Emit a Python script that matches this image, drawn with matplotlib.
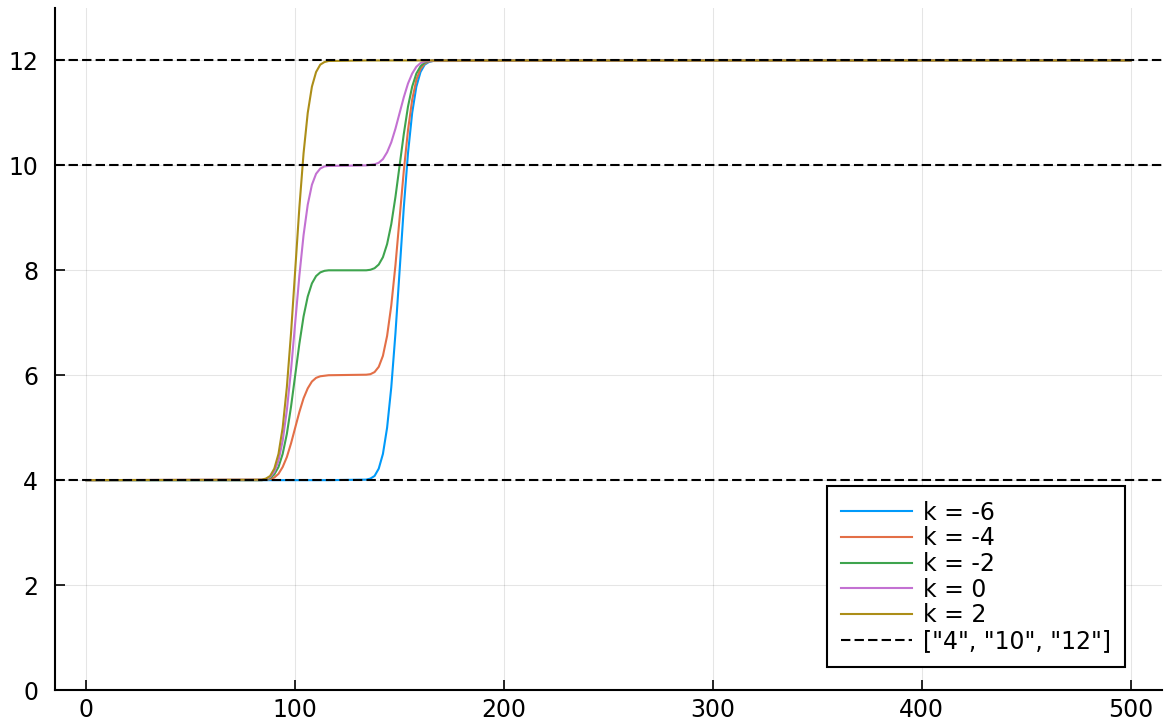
import matplotlib
matplotlib.use("Agg")
import matplotlib.pyplot as plt

# shared x grid
x = [0, 84, 86, 88, 90, 92, 94, 96, 98, 100, 102, 104, 106, 108, 110, 112, 114, 116,
     134, 136, 138, 140, 142, 144, 146, 148, 150, 152, 154, 156, 158, 160, 162, 164, 166, 500]

y_km6 = [4.00] + [4.00] * 17 + [4.01, 4.03, 4.08, 4.22, 4.50, 5.00, 5.77, 6.80, 8.00, 9.20, 10.23,
                                 11.00, 11.50, 11.78, 11.92, 11.97, 11.99] + [12.00]
y_km4 = [4.00] + [4.00, 4.01, 4.02, 4.05, 4.12, 4.25, 4.44, 4.70, 5.00, 5.30, 5.56, 5.75, 5.88,
                  5.95, 5.98, 5.99, 6.00] + [6.01, 6.02, 6.06, 6.16, 6.37, 6.75, 7.33, 8.10, 9.00,
                                             9.90, 10.67, 11.25, 11.63, 11.84, 11.94, 11.98, 11.99] + [12.00]
y_km2 = [4.00] + [4.00, 4.01, 4.04, 4.11, 4.25, 4.50, 4.88, 5.40, 6.00, 6.60, 7.12, 7.50, 7.75,
                  7.89, 7.96, 7.99, 8.00] + [8.00, 8.01, 8.04, 8.11, 8.25, 8.50, 8.88, 9.40, 10.00,
                                             10.60, 11.12, 11.50, 11.75, 11.89, 11.96, 11.99, 12.00] + [12.00]
y_k0 = [4.00] + [4.01, 4.02, 4.06, 4.16, 4.37, 4.75, 5.33, 6.10, 7.00, 7.90, 8.67, 9.25, 9.63,
                 9.84, 9.94, 9.98, 9.99] + [10.00, 10.01, 10.02, 10.05, 10.12, 10.25, 10.44, 10.70, 11.00,
                                            11.30, 11.56, 11.75, 11.88, 11.95, 11.98, 11.99, 12.00] + [12.00]
y_k2 = [4.00] + [4.01, 4.03, 4.08, 4.22, 4.50, 5.00, 5.77, 6.80, 8.00, 9.20, 10.23, 11.00, 11.50,
                 11.78, 11.92, 11.97, 11.99] + [12.00] * 17 + [12.00]

series = [y_km6, y_km4, y_km2, y_k0, y_k2]
labels = ["k = -6", "k = -4", "k = -2", "k = 0", "k = 2"]
colors = ["#009AFA", "#E36F47", "#3EA44E", "#C371D2", "#AC8E18"]

hline_vals = [4, 10, 12]
hline_label = '["4", "10", "12"]'

xticks = [0, 100, 200, 300, 400, 500]
yticks = [0, 2, 4, 6, 8, 10, 12]

plt.rcParams['font.family'] = ['DejaVu Sans']
fig = plt.figure(figsize=(11.64, 7.25), dpi=100)
ax = fig.add_axes([55 / 1164, 35 / 725, (1162 - 55) / 1164, (690 - 8) / 725])

for ys, lab, c in zip(series, labels, colors):
    ax.plot(x, ys, color=c, lw=1.5, label=lab)

for i, v in enumerate(hline_vals):
    ax.axhline(v, color="black", lw=1.5, ls=(0, (4.5, 2.0)),
               label=hline_label if i == 0 else None)

ax.set_xlim(-15, 515)
ax.set_ylim(0, 13)
ax.set_xticks(xticks)
ax.set_yticks(yticks)
ax.grid(True, color="black", alpha=0.1, lw=0.8)
ax.set_axisbelow(True)

for s in ["top", "right"]:
    ax.spines[s].set_visible(False)
for s in ["left", "bottom"]:
    ax.spines[s].set_linewidth(1.5)

ax.tick_params(axis="both", direction="in", length=7, width=1.2, labelsize=17)
ax.tick_params(axis="y", pad=12)
ax.tick_params(axis="x", pad=6)

leg = ax.legend(loc="lower right", bbox_to_anchor=(0.9666, 0.0337), fontsize=17,
                frameon=True, fancybox=False, framealpha=1, edgecolor="black",
                handlelength=3.0, handletextpad=0.45, labelspacing=0.07, borderpad=0.6,
                borderaxespad=0)
leg.get_frame().set_linewidth(1.5)

fig.savefig("out.png", dpi=100)
